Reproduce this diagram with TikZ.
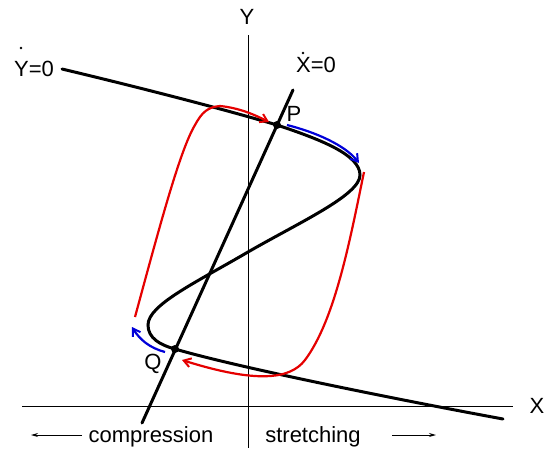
\documentclass[tikz,border=0pt]{standalone}
\usepackage{fontspec}
\setmainfont{Liberation Sans}
\usetikzlibrary{arrows.meta}
\begin{document}
\begin{tikzpicture}[x=1pt,y=-1pt,
  lbl/.style={inner sep=0pt,font=\fontsize{22}{26}\selectfont},
  axis/.style={line width=0.9pt,black},
  nullc/.style={line width=3pt,black,line cap=round},
  redtraj/.style={line width=2.2pt,red!90!black,-{Straight Barb[length=7pt,width=9pt,line width=2pt]}},
  bluetraj/.style={line width=2.2pt,blue!85!black,-{Straight Barb[length=7pt,width=9pt,line width=2pt]}},
  dirarrow/.style={line width=1pt,-{Stealth[length=7pt,width=4pt]}},
  eqpt/.style={circle,fill=black,inner sep=0pt,minimum size=8pt}]
\useasboundingbox (0,0) rectangle (544,448);
% axes
\coordinate (xl) at (22,406);
\coordinate (xr) at (513,406);
\coordinate (yt) at (248,35);
\coordinate (yb) at (248,448);
\draw[axis] (xl) -- (xr);
\draw[axis] (yt) -- (yb);
\node[lbl] (xlab) at (537,406) {X};
\node[lbl] (ylab) at (247,17) {Y};
% X-dot nullcline
\coordinate (xa) at (142,423);
\coordinate (xb) at (293,90);
\draw[nullc] (xa) -- (xb);
\node[lbl] (xdlab) at (316,65) {X=0};
\fill (303,53) circle (1.4pt);
% Y-dot nullcline (cubic)
\coordinate (ya) at (62,69);
\coordinate (P) at (277,125);
\coordinate (R) at (360,175);
\coordinate (M) at (248,252);
\coordinate (L) at (148,325);
\coordinate (Q) at (175,349);
\coordinate (ye) at (503,419);
\draw[nullc] (ya) .. controls (150,90) and (230,111) .. (P)
  .. controls (322,140) and (360,155) .. (R)
  .. controls (360,195) and (300,222) .. (M)
  .. controls (195,283) and (148,305) .. (L)
  .. controls (148,338) and (160,345) .. (Q)
  .. controls (240,368) and (400,400) .. (ye);
\node[lbl] (ydlab) at (34,69) {Y=0};
\fill (21,48) circle (1.4pt);
% equilibrium points
\node[eqpt] (Pn) at (P) {};
\node[eqpt] (Qn) at (Q) {};
\node[lbl] (plab) at (294,114) {P};
\node[lbl] (qlab) at (153,364) {Q};
% red trajectory pieces
\coordinate (r1s) at (135,317);
\coordinate (r1m) at (195,125);
\coordinate (r1c) at (220,106);
\coordinate (r1e) at (269,122);
\draw[redtraj] (r1s) .. controls (160,225) and (180,150) .. (r1m)
  .. controls (202,112) and (208,107) .. (r1c)
  .. controls (240,108) and (255,115) .. (r1e);
\coordinate (r2s) at (364,172);
\coordinate (r2c) at (305,360);
\coordinate (r2e) at (182,360);
\draw[redtraj] (r2s) .. controls (350,240) and (335,320) .. (r2c)
  .. controls (290,380) and (255,383) .. (r2e);
% blue trajectory pieces
\coordinate (b1s) at (287,125);
\coordinate (b1e) at (359,163);
\draw[bluetraj] (b1s) .. controls (315,132) and (345,145) .. (b1e);
\coordinate (b2s) at (165,352);
\coordinate (b2e) at (132,327);
\draw[bluetraj] (b2s) .. controls (150,348) and (140,340) .. (b2e);
% bottom labels
\node[lbl,anchor=base] (comp) at (151,442) {compression};
\node[lbl,anchor=base] (stre) at (313,442) {stretching};
\coordinate (la1) at (82,435);
\coordinate (la2) at (31,435);
\coordinate (ra1) at (392,435);
\coordinate (ra2) at (436,435);
\draw[dirarrow] (la1) -- (la2);
\draw[dirarrow] (ra1) -- (ra2);
\end{tikzpicture}
\end{document}
